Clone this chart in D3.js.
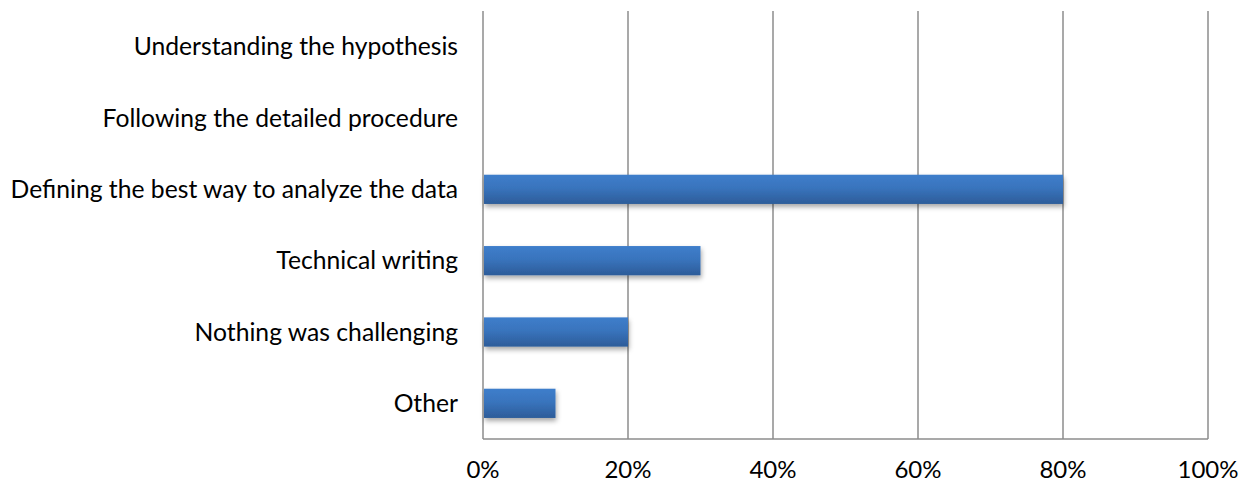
<!DOCTYPE html>
<html>
<head>
<meta charset="utf-8">
<script src="https://cdn.jsdelivr.net/npm/d3@7"></script>
<style>
  body { margin: 0; background: #fff; }
  text { font-family: Lato, "Open Sans", sans-serif; fill: #000; }
</style>
</head>
<body>
<script>
// survey answers, top to bottom
var categories = [
    "Understanding the hypothesis",
    "Following the detailed procedure",
    "Defining the best way to analyze the data",
    "Technical writing",
    "Nothing was challenging",
    "Other"
];
var values = [0, 0, 0.8, 0.3, 0.2, 0.1];
var ticks = [0, 0.2, 0.4, 0.6, 0.8, 1.0];

var width = 1242,
    height = 485;

// plot area (note: "top" is taken by window.top)
var plotLeft = 483, plotRight = 1208, plotTop = 11, plotBottom = 439;

var svg = d3.select("body").append("svg")
    .attr("width", width)
    .attr("height", height);

var defs = svg.append("defs");

var grad = defs.append("linearGradient")
    .attr("id", "barGrad")
    .attr("x1", 0).attr("y1", 0).attr("x2", 0).attr("y2", 1);
grad.append("stop").attr("offset", "0%").attr("stop-color", "#3e7ecb");
grad.append("stop").attr("offset", "45%").attr("stop-color", "#3974bd");
grad.append("stop").attr("offset", "100%").attr("stop-color", "#2d5c99");

var shadow = defs.append("filter")
    .attr("id", "shadow")
    .attr("x", "-10%").attr("y", "-30%")
    .attr("width", "130%").attr("height", "180%");
shadow.append("feDropShadow")
    .attr("dx", 1).attr("dy", 3)
    .attr("stdDeviation", 2.5)
    .attr("flood-color", "#000")
    .attr("flood-opacity", 0.35);

var x = d3.scaleLinear().domain([0, 1]).range([plotLeft, plotRight]);

var y = d3.scaleBand()
    .domain(categories)
    .range([plotTop, plotBottom])
    .paddingInner(0.59)
    .paddingOuter(0.295);

// gridlines
svg.append("g")
    .selectAll("line")
    .data(ticks)
    .enter().append("line")
    .attr("x1", function(d) { return x(d); })
    .attr("x2", function(d) { return x(d); })
    .attr("y1", plotTop)
    .attr("y2", plotBottom)
    .attr("stroke", "#8c8c8c")
    .attr("stroke-width", 1.5);

// bottom axis line
svg.append("line")
    .attr("x1", plotLeft).attr("x2", plotRight)
    .attr("y1", plotBottom).attr("y2", plotBottom)
    .attr("stroke", "#8c8c8c")
    .attr("stroke-width", 1.5);

// bars
svg.append("g")
    .selectAll("rect")
    .data(categories)
    .enter().append("rect")
    .filter(function(d, i) { return values[i] > 0; })
    .attr("x", x(0) + 1)
    .attr("y", function(d) { return y(d); })
    .attr("width", function(d) { return x(values[categories.indexOf(d)]) - x(0) - 1; })
    .attr("height", y.bandwidth())
    .attr("fill", "url(#barGrad)")
    .attr("filter", "url(#shadow)");

// category labels
svg.append("g")
    .selectAll("text")
    .data(categories)
    .enter().append("text")
    .attr("x", plotLeft - 25)
    .attr("y", function(d) { return y(d) + y.bandwidth() / 2; })
    .attr("dy", "0.35em")
    .attr("text-anchor", "end")
    .attr("font-size", 24.7)
    .text(function(d) { return d; });

// tick labels
svg.append("g")
    .selectAll("text")
    .data(ticks)
    .enter().append("text")
    .attr("x", function(d) { return x(d); })
    .attr("y", 470)
    .attr("dy", "0.35em")
    .attr("text-anchor", "middle")
    .attr("font-size", 24)
    .text(function(d) { return d3.format(".0%")(d); });
</script>
</body>
</html>
